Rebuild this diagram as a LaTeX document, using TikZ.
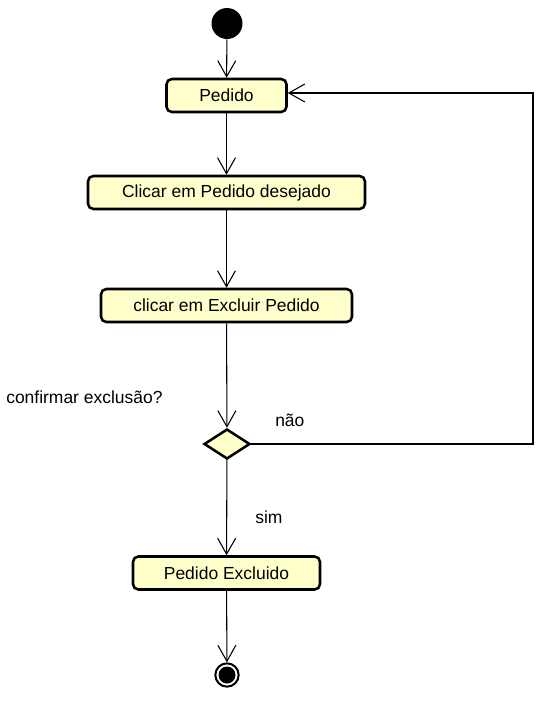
\documentclass[tikz,border=0pt]{standalone}
\usepackage{fontspec}
\setmainfont{Liberation Sans}
\usetikzlibrary{arrows.meta,shapes.geometric}
\definecolor{actfill}{HTML}{FFFFCC}
\tikzset{
  act/.style={draw=black, line width=1.9pt, fill=actfill, rounded corners=4pt,
    minimum height=24.75pt, inner sep=0pt, font=\fontsize{13.1pt}{15pt}\selectfont},
  dec/.style={draw=black, line width=1.9pt, fill=actfill, diamond, inner sep=0pt,
    minimum width=34.5pt, minimum height=22.5pt, aspect=1.5},
  flow/.style={draw=black, line width=0.8pt, -{Straight Barb[length=12pt,width=13.5pt,line width=0.8pt]}},
  lbl/.style={font=\fontsize{13.1pt}{15pt}\selectfont, inner sep=0pt, anchor=west},
}
\begin{document}
\begin{tikzpicture}[x=0.75pt,y=-0.75pt]
\useasboundingbox (0,0) rectangle (546,704);
\node[circle, fill=black, minimum size=23.25pt, inner sep=0pt] (start) at (227,23.5) {};
\node[act, minimum width=90pt] (pedido) at (226.5,95.5) {Pedido};
\node[act, minimum width=207.75pt] (clicar) at (226.5,192.5) {Clicar em Pedido desejado};
\node[act, minimum width=188.25pt] (excluir) at (226.5,305.5) {clicar em Excluir Pedido};
\node[dec] (dec) at (227,444) {};
\node[act, minimum width=140.25pt] (excluido) at (226.5,573) {Pedido Excluido};
\node[circle, draw=black, line width=1.5pt, minimum size=17.5pt, inner sep=0pt] (end) at (227,675) {};
\node[circle, fill=black, minimum size=12.75pt, inner sep=0pt] (endin) at (227,675) {};
\coordinate (c1) at (533,444);
\coordinate (c2) at (533,93);
\node[lbl] (q) at (6,397) {confirmar exclusão?};
\node[lbl] (nao) at (275,420) {não};
\node[lbl] (sim) at (255,517) {sim};
\draw[flow] (start) -- (pedido);
\draw[flow] (pedido) -- (clicar);
\draw[flow] (clicar) -- (excluir);
\draw[flow] (excluir) -- (dec);
\draw[flow] (dec) -- (excluido);
\draw[flow] (excluido) -- (end);
\draw[flow] (dec.east) -- (c1) -- (c2) -- (pedido.east |- c2);
\end{tikzpicture}
\end{document}
